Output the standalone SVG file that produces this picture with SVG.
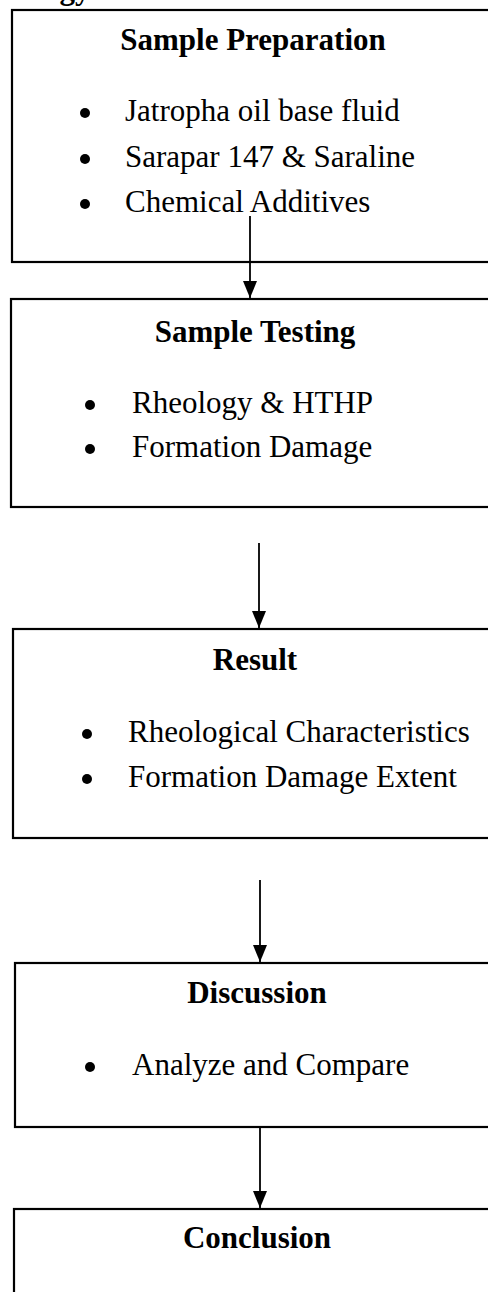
<svg xmlns="http://www.w3.org/2000/svg" width="488" height="1292" viewBox="0 0 488 1292">
<style>
.box{fill:#fff;stroke:#000;stroke-width:2.2}
.t{font-family:"Liberation Serif","Times New Roman",serif;font-size:31px;fill:#000}
.h{font-weight:bold;text-anchor:middle}
.b{fill:#000}
.c{stroke:#000;stroke-width:1.8;fill:none}
</style>
<defs>
<marker id="ah" markerUnits="userSpaceOnUse" markerWidth="18" markerHeight="16" refX="17" refY="7" orient="auto" viewBox="0 0 18 14">
<path d="M0,0 L17,7 L0,14 Z" fill="#000"/>
</marker>
</defs>
<rect width="488" height="1292" fill="#fff"/>
<text class="t h" x="75" y="-1" font-size="22">gy</text>
<g id="prep">
<rect class="box" x="12" y="10" width="480" height="252"/>
<text class="t h" x="253" y="50">Sample Preparation</text>
<circle class="b" cx="85" cy="113" r="5"/>
<text class="t" x="125" y="121">Jatropha oil base fluid</text>
<circle class="b" cx="85" cy="159" r="5"/>
<text class="t" x="125" y="167">Sarapar 147 &amp; Saraline</text>
<circle class="b" cx="85" cy="204" r="5"/>
<text class="t" x="125" y="212">Chemical Additives</text>
</g>
<g id="testing">
<rect class="box" x="11" y="299" width="481" height="208"/>
<text class="t h" x="255" y="342">Sample Testing</text>
<circle class="b" cx="90" cy="405" r="5"/>
<text class="t" x="132" y="413">Rheology &amp; HTHP</text>
<circle class="b" cx="90" cy="449" r="5"/>
<text class="t" x="132" y="457">Formation Damage</text>
</g>
<g id="result">
<rect class="box" x="13" y="629" width="479" height="209"/>
<text class="t h" x="255" y="670">Result</text>
<circle class="b" cx="87" cy="734" r="5"/>
<text class="t" x="128" y="742">Rheological Characteristics</text>
<circle class="b" cx="87" cy="779" r="5"/>
<text class="t" x="128" y="787">Formation Damage Extent</text>
</g>
<g id="discussion">
<rect class="box" x="15" y="963" width="477" height="164"/>
<text class="t h" x="257" y="1003">Discussion</text>
<circle class="b" cx="90" cy="1067" r="5"/>
<text class="t" x="132" y="1075">Analyze and Compare</text>
</g>
<g id="conclusion">
<rect class="box" x="14" y="1209" width="478" height="100"/>
<text class="t h" x="257" y="1248">Conclusion</text>
</g>
<g id="connectors">
<line class="c" x1="250" y1="216" x2="250" y2="298" marker-end="url(#ah)"/>
<line class="c" x1="259" y1="543" x2="259" y2="628" marker-end="url(#ah)"/>
<line class="c" x1="260" y1="880" x2="260" y2="962" marker-end="url(#ah)"/>
<line class="c" x1="260" y1="1127" x2="260" y2="1208" marker-end="url(#ah)"/>
</g>
</svg>
